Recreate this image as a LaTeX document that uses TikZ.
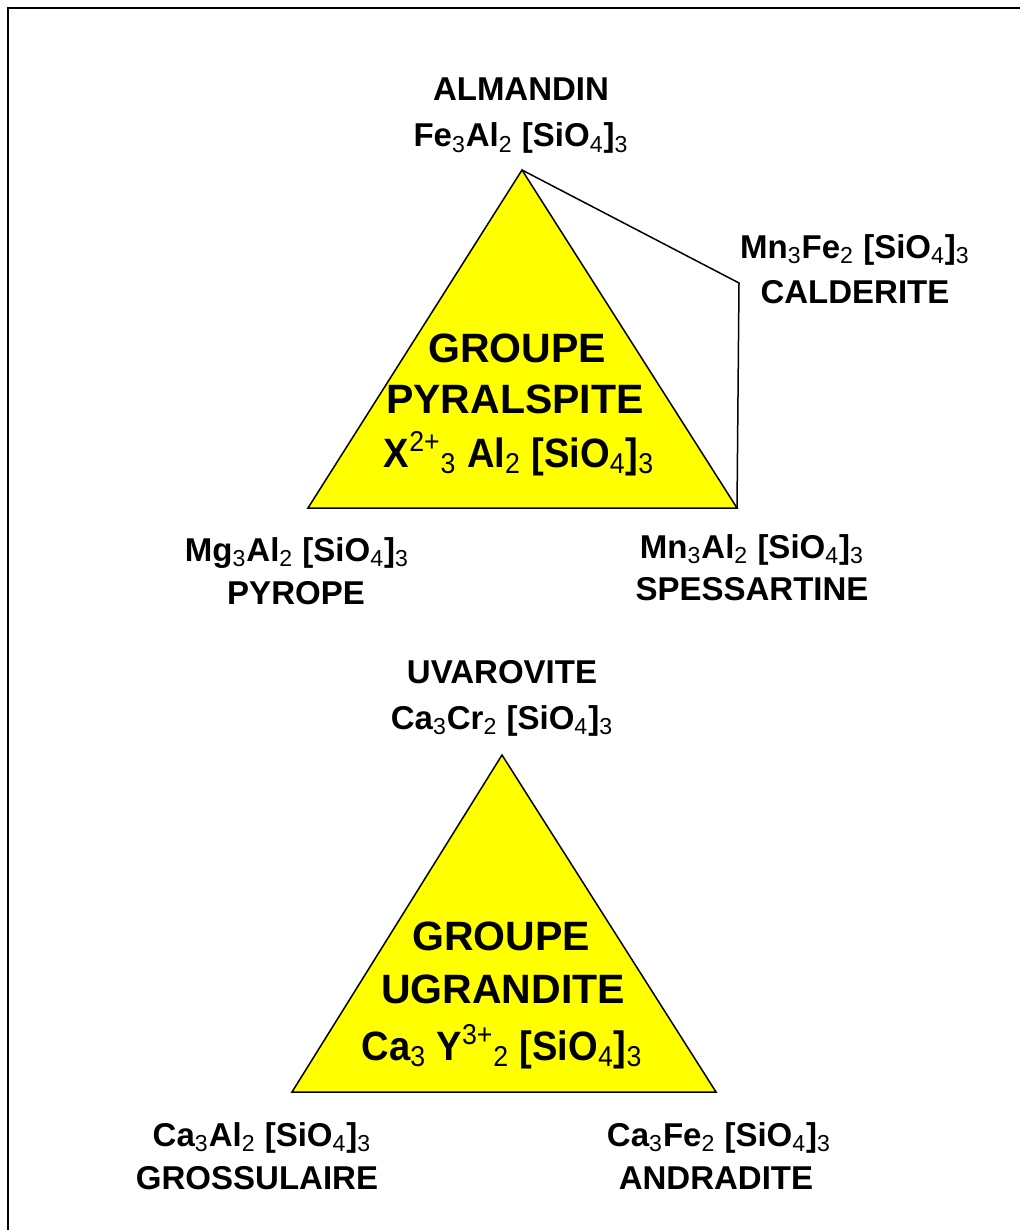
\documentclass[tikz,border=0pt]{standalone}
\usepackage{fontspec}
\setmainfont{Liberation Sans}
\definecolor{triyellow}{RGB}{255,255,0}
\newcommand\sbs[1]{\textsubscript{\mdseries #1}}
\newcommand\sps[1]{\textsuperscript{\mdseries #1}}
\begin{document}
\begin{tikzpicture}[x=0.5pt,y=-0.5pt,
  lbl/.style={inner sep=0pt,anchor=base,font=\fontsize{16.5}{19}\selectfont\bfseries},
  big/.style={inner sep=0pt,anchor=base,font=\fontsize{20.5}{25}\selectfont\bfseries},
  tri/.style={fill=triyellow,draw=black,line width=0.75pt,line join=miter},
  link/.style={draw=black,line width=0.75pt},
  frame/.style={draw=black,line width=1.2pt}]
\useasboundingbox (0,0) rectangle (1020,1230);
\fill[white] (0,0) rectangle (1020,1230);
\draw[frame] (8,1230) -- (8,8) -- (1020,8);

% Pyralspite triangle
\coordinate (alm) at (522,170);
\coordinate (pyr) at (308,508);
\coordinate (spe) at (737,508);
\coordinate (cal) at (739,283);
\draw[tri] (alm) -- (pyr) -- (spe) -- cycle;
\draw[link] (alm) -- (cal) -- (spe);

\node[lbl] (almname) at (521,101) {ALMANDIN};
\node[lbl] (almform) at (521,147) {Fe\sbs{3}Al\sbs{2} [SiO\sbs{4}]\sbs{3}};
\node[lbl] (calform) at (855,258) {Mn\sbs{3}Fe\sbs{2} [SiO\sbs{4}]\sbs{3}};
\node[lbl] (calname) at (855,303) {CALDERITE};
\node[big] (g1a) at (517,362) {GROUPE};
\node[big] (g1b) at (515,413) {PYRALSPITE};
\node[big,xscale=0.93] (g1c) at (519,467) {X\sps{2+}\sbs{3} Al\sbs{2} [SiO\sbs{4}]\sbs{3}};
\node[lbl] (pyrform) at (297,561) {Mg\sbs{3}Al\sbs{2} [SiO\sbs{4}]\sbs{3}};
\node[lbl] (pyrname) at (296,604) {PYROPE};
\node[lbl] (speform) at (752,558) {Mn\sbs{3}Al\sbs{2} [SiO\sbs{4}]\sbs{3}};
\node[lbl] (spename) at (752,600) {SPESSARTINE};

% Ugrandite triangle
\coordinate (uva) at (502,755);
\coordinate (gro) at (292,1092);
\coordinate (and) at (716,1092);
\draw[tri] (uva) -- (gro) -- (and) -- cycle;

\node[lbl] (uvaname) at (502,683) {UVAROVITE};
\node[lbl] (uvaform) at (502,729) {Ca\sbs{3}Cr\sbs{2} [SiO\sbs{4}]\sbs{3}};
\node[big] (g2a) at (501,950) {GROUPE};
\node[big] (g2b) at (503,1003) {UGRANDITE};
\node[big,xscale=0.93] (g2c) at (502,1060) {Ca\sbs{3} Y\sps{3+}\sbs{2} [SiO\sbs{4}]\sbs{3}};
\node[lbl] (groform) at (262,1146) {Ca\sbs{3}Al\sbs{2} [SiO\sbs{4}]\sbs{3}};
\node[lbl] (groname) at (257,1189) {GROSSULAIRE};
\node[lbl] (andform) at (719,1146) {Ca\sbs{3}Fe\sbs{2} [SiO\sbs{4}]\sbs{3}};
\node[lbl] (andname) at (716,1189) {ANDRADITE};
\end{tikzpicture}
\end{document}
